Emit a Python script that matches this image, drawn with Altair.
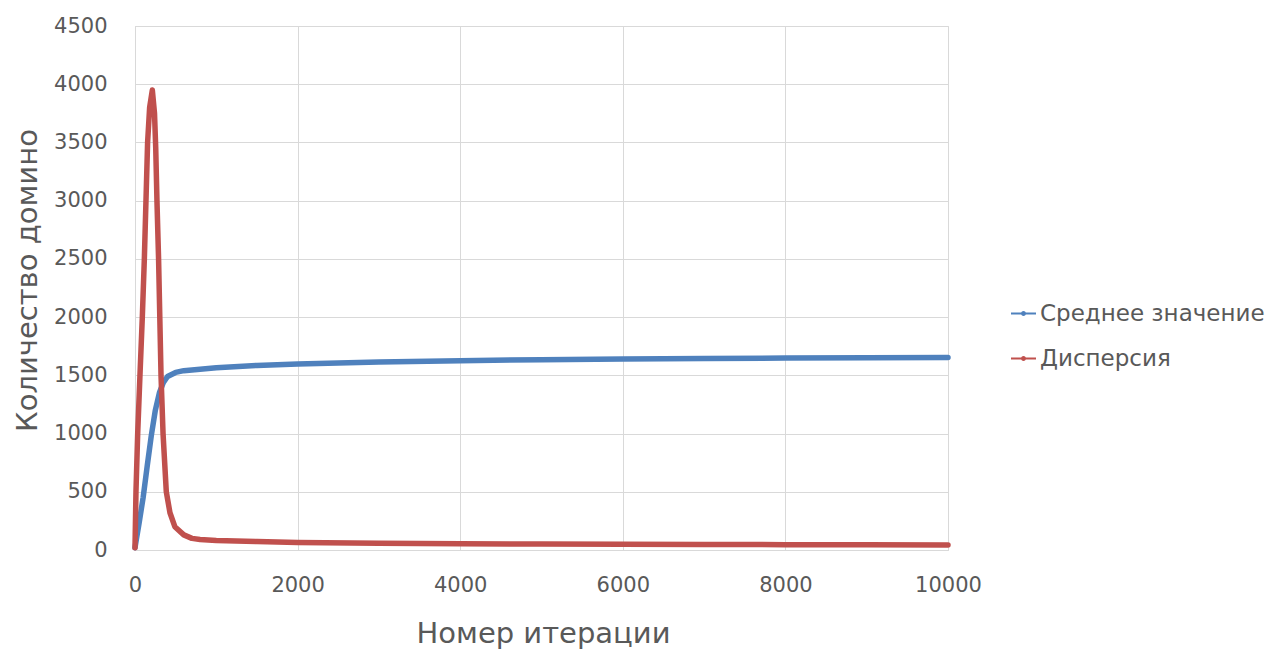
import altair as alt
import pandas as pd

series_names = ["Среднее значение", "Дисперсия"]
series_colors = ["#4F81BD", "#C0504D"]

mean_x = [0, 50, 100, 150, 200, 250, 300, 350, 400, 500, 600, 800, 1000, 1500,
          2000, 3000, 4000, 5000, 6000, 7000, 8000, 9000, 10000]
mean_y = [20, 230, 450, 720, 980, 1200, 1350, 1440, 1490, 1525, 1540, 1553, 1565, 1585,
          1598, 1615, 1626, 1634, 1641, 1645, 1648, 1650, 1653]

var_x = [0, 12, 33, 61, 90, 115, 135, 155, 180, 213, 240, 255, 270, 290, 305, 320,
         345, 385, 430, 490, 600, 700, 800, 1000, 1500, 2000, 3000, 4000, 5000,
         6000, 7000, 8000, 9000, 10000]
var_y = [20, 500, 1000, 1500, 2000, 2500, 3000, 3500, 3800, 3950, 3750, 3450, 3000,
         2500, 2000, 1500, 1000, 500, 320, 200, 130, 100, 90, 82, 72, 65, 58, 54, 51,
         49, 47, 46, 45, 44]

x_ticks = [0, 2000, 4000, 6000, 8000, 10000]
y_ticks = [0, 500, 1000, 1500, 2000, 2500, 3000, 3500, 4000, 4500]

df_mean = pd.DataFrame({"x": mean_x, "y": mean_y, "s": series_names[0]})
df_var = pd.DataFrame({"x": var_x, "y": var_y, "s": series_names[1]})

FONT = "DejaVu Sans"
TXT = "#595959"
GRID = "#D9D9D9"

symbol_path = ("M-1,0L1,0M-0.12,0a0.12,0.12 0 1,0 0.24,0"
               "a0.12,0.12 0 1,0 -0.24,0")

xenc = alt.X("x:Q",
             scale=alt.Scale(domain=[0, 10000], nice=False, zero=False),
             axis=alt.Axis(values=x_ticks, title="Номер итерации", format="d",
                           grid=True, gridColor=GRID, ticks=False,
                           domain=False, labelPadding=24, labelFlush=False,
                           labelFontSize=21, labelColor=TXT, labelFont=FONT,
                           titleFontSize=29, titleColor=TXT, titleFont=FONT,
                           titleFontWeight="normal",
                           titleX=408, titleY=83, titleBaseline="middle",
                           titleAlign="center"))
yenc = alt.Y("y:Q",
             scale=alt.Scale(domain=[0, 4500], nice=False),
             axis=alt.Axis(values=y_ticks, title="Количество домино", format="d",
                           grid=True, gridColor=GRID, ticks=False,
                           domain=True, domainColor=GRID, labelPadding=28,
                           labelFlush=False,
                           labelFontSize=21, labelColor=TXT, labelFont=FONT,
                           titleFontSize=29, titleColor=TXT, titleFont=FONT,
                           titleFontWeight="normal",
                           titleX=-108, titleY=254, titleAngle=270,
                           titleBaseline="middle", titleAlign="center"))
color = alt.Color("s:N",
                  scale=alt.Scale(domain=series_names, range=series_colors),
                  legend=alt.Legend(title=None, orient="none",
                                    legendX=875, legendY=274,
                                    symbolType=symbol_path, symbolSize=625,
                                    symbolStrokeWidth=2,
                                    labelFontSize=23, labelColor=TXT,
                                    labelFont=FONT, labelOffset=3,
                                    labelLimit=0, rowPadding=19))

line_blue = alt.Chart(df_mean).mark_line(strokeWidth=5.5, strokeCap="round",
                                         strokeJoin="round").encode(
    x=xenc, y=yenc, color=color)
line_red = alt.Chart(df_var).mark_line(strokeWidth=5.5, strokeCap="round",
                                       strokeJoin="round").encode(
    x=xenc, y=yenc, color=color)

chart = alt.layer(line_blue, line_red).properties(
    width=813, height=524,
    autosize=alt.AutoSizeParams(type="none"),
    padding={"left": 127, "top": 18, "right": 318, "bottom": 108},
).configure_view(stroke=None).configure(background="white")

chart.save("out.html", embed_options={"renderer": "svg", "actions": False})
